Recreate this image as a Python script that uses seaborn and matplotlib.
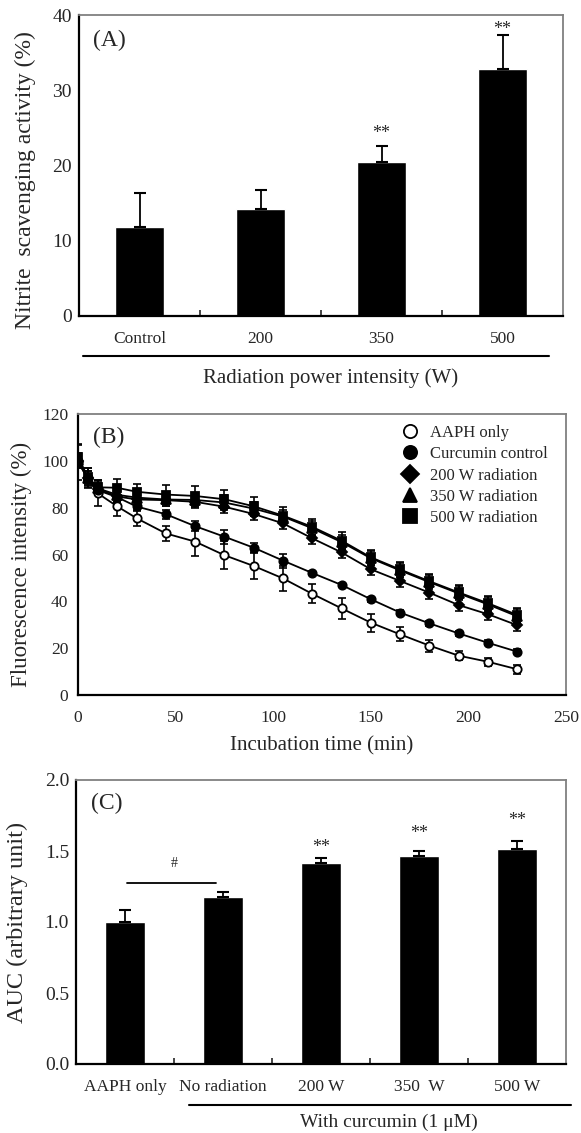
import matplotlib
matplotlib.use("Agg")
import matplotlib.pyplot as plt
from matplotlib.lines import Line2D
import seaborn as sns
import pandas as pd

# DATA

# (A) nitrite scavenging
A_CATS = ["Control", "200", "350", "500"]
A_VALS = [11.8, 14.2, 20.4, 32.8]
A_ERR = [4.5, 2.5, 2.2, 4.6]
A_STARS = ["", "", "**", "**"]

# (B) fluorescence decay
B_TIME = [0, 5, 10, 20, 30, 45, 60, 75, 90, 105, 120, 135, 150, 165, 180, 195, 210, 225]
B_AAPH = [99.5, 92.5, 86.2, 80.6, 75.5, 69.0, 65.5, 59.7, 55.1, 49.8, 43.2, 37.0, 30.9, 25.9, 21.1, 16.8, 14.2, 11.0]
B_AAPH_ERR = [7.5, 4.3, 5.7, 4.0, 3.5, 3.2, 6.0, 6.0, 5.7, 5.5, 4.0, 4.5, 3.8, 3.0, 2.6, 1.8, 1.7, 1.9]
B_CURC = [100.0, 92.5, 87.5, 84.5, 80.5, 77.2, 72.1, 67.6, 62.9, 57.4, 52.1, 47.0, 40.9, 35.2, 30.6, 26.3, 22.3, 18.5]
B_CURC_ERR = [2.0, 2.0, 2.0, 2.0, 2.0, 2.0, 2.0, 3.0, 2.0, 3.0, 1.0, 1.0, 1.0, 1.0, 1.0, 1.0, 1.0, 1.0]
B_200 = [100.0, 92.5, 88.0, 84.8, 83.5, 83.2, 82.5, 80.4, 77.3, 73.3, 66.9, 60.9, 53.7, 48.7, 43.7, 38.4, 34.5, 29.8]
B_200_ERR = [3.0, 3.0, 2.5, 2.5, 2.5, 2.5, 2.5, 2.5, 2.5, 2.5, 2.5, 2.5, 2.5, 2.5, 2.5, 2.5, 2.5, 2.5]
B_350 = [100.5, 92.5, 88.3, 85.5, 84.3, 83.5, 83.3, 82.2, 79.6, 76.2, 71.2, 65.3, 58.4, 53.2, 48.2, 43.4, 38.7, 33.6]
B_350_ERR = [3.0, 3.0, 3.0, 3.0, 3.0, 3.0, 3.0, 3.0, 3.0, 3.0, 3.0, 3.0, 3.0, 3.0, 3.0, 3.0, 3.0, 3.0]
B_500 = [101.8, 93.0, 88.7, 88.5, 86.8, 85.6, 85.0, 83.6, 80.6, 76.6, 71.8, 65.9, 58.8, 53.6, 48.6, 43.8, 39.2, 34.2]
B_500_ERR = [5.0, 4.0, 3.0, 3.9, 3.5, 4.2, 4.3, 4.0, 4.0, 3.5, 3.5, 3.6, 3.3, 3.0, 3.0, 3.0, 3.0, 3.0]
B_LABELS = ["AAPH only", "Curcumin control", "200 W radiation", "350 W radiation", "500 W radiation"]

# (C) AUC
C_CATS = ["AAPH only", "No radiation", "200 W", "350  W", "500 W"]
C_VALS = [1.00, 1.176, 1.413, 1.465, 1.512]
C_ERR = [0.085, 0.033, 0.040, 0.033, 0.058]
C_STARS = ["", "", "**", "**", "**"]

# STYLE

sns.set_style("white")
plt.rcParams["font.family"] = ["Liberation Serif", "DejaVu Serif"]

FIG_W, FIG_H = 581, 1133


def frame(ax):
    for side in ["left", "bottom"]:
        ax.spines[side].set_color("black")
        ax.spines[side].set_linewidth(1.6)
    for side in ["top", "right"]:
        ax.spines[side].set_color("#808080")
        ax.spines[side].set_linewidth(1.3)


def box(left, top, right, bottom):
    return [left / FIG_W, 1 - bottom / FIG_H, (right - left) / FIG_W, (bottom - top) / FIG_H]


def bars_with_errors(ax, cats, vals, errs, width):
    df = pd.DataFrame({"cat": cats, "val": vals})
    sns.barplot(data=df, x="cat", y="val", color="black", width=width,
                saturation=1, errorbar=None, ax=ax)
    ax.errorbar(range(len(vals)), vals, yerr=[[0] * len(errs), errs],
                fmt="none", ecolor="black", elinewidth=1.3, capsize=4, capthick=1.5)


def stars(ax, vals, errs, marks, offsets):
    for i, s in enumerate(marks):
        if s:
            ax.annotate(s, xy=(i, vals[i] + errs[i]), xytext=(0, offsets[i]),
                        textcoords="offset pixels", ha="center", va="center", fontsize=13)


fig = plt.figure(figsize=(FIG_W / 100, FIG_H / 100), dpi=100)

# PANEL A

axA = fig.add_axes(box(79, 15, 563, 316))
bars_with_errors(axA, A_CATS, A_VALS, A_ERR, 0.405)
stars(axA, A_VALS, A_ERR, A_STARS, [0, 0, 12, 5])
axA.set_xlim(-0.5, len(A_CATS) - 0.5)
axA.set_ylim(0, 40)
axA.set_yticks([0, 10, 20, 30, 40])
axA.set_xticks([0.5, 1.5, 2.5], minor=True)
axA.tick_params(axis="x", which="major", length=0, labelsize=12.5, pad=11)
axA.tick_params(axis="x", which="minor", direction="in", length=4, width=1.2, bottom=True)
axA.tick_params(axis="y", direction="in", length=0, labelsize=14, pad=5)
axA.set_xlabel("")
axA.set_ylabel("Nitrite  scavenging activity (%)", fontsize=17)
axA.yaxis.set_label_coords(-0.088, 0.452)
axA.text(0.029, 0.914, "(A)", transform=axA.transAxes, fontsize=17, va="center", ha="left")
axA.plot([0.008, 0.971], [-0.133, -0.133], transform=axA.transAxes, color="black",
         lw=1.5, clip_on=False)
axA.text(0.52, -0.206, "Radiation power intensity (W)", transform=axA.transAxes,
         ha="center", va="center", fontsize=15)
frame(axA)

# PANEL B

axB = fig.add_axes(box(78, 414, 566, 695))
series = [
    (B_AAPH, B_AAPH_ERR, "o", "white"),
    (B_CURC, B_CURC_ERR, "o", "black"),
    (B_200, B_200_ERR, "D", "black"),
    (B_350, B_350_ERR, "^", "black"),
    (B_500, B_500_ERR, "s", "black"),
]
msizes = {"o": 6, "D": 5, "^": 6.5, "s": 6}
for vals, err, mk, fc in series:
    axB.errorbar(B_TIME, vals, yerr=err, fmt="none", ecolor="black",
                 elinewidth=1.2, capsize=3, capthick=1.2, zorder=2)
    sns.lineplot(x=B_TIME, y=vals, marker=mk, color="black", lw=1.3,
                 markersize=msizes[mk], markerfacecolor=fc,
                 markeredgecolor="black", markeredgewidth=1.3, ax=axB, zorder=3)
axB.set_xlim(0, 250)
axB.set_ylim(0, 120)
axB.set_xticks([0, 50, 100, 150, 200, 250])
axB.set_yticks([0, 20, 40, 60, 80, 100, 120])
axB.tick_params(direction="in", length=4, width=1.2, labelsize=12.5, pad=7)
axB.tick_params(axis="x", pad=11)
axB.set_xlabel("Incubation time (min)", fontsize=15, labelpad=7)
axB.set_ylabel("Fluorescence intensity (%)", fontsize=16.5)
axB.yaxis.set_label_coords(-0.094, 0.463)
axB.text(0.031, 0.918, "(B)", transform=axB.transAxes, fontsize=17, va="center", ha="left")
handles = [Line2D([], [], ls="none", marker=mk, markersize=9.5, markerfacecolor=fc,
                  markeredgecolor="black", markeredgewidth=1.3, color="black")
           for _, _, mk, fc in series]
axB.legend(handles, B_LABELS, loc="upper left", bbox_to_anchor=(0.663, 0.961),
           frameon=False, fontsize=12, handlelength=1.0, handletextpad=0.7,
           labelspacing=0.32, borderpad=0, borderaxespad=0)
frame(axB)

# PANEL C

axC = fig.add_axes(box(76, 780, 566, 1064))
bars_with_errors(axC, C_CATS, C_VALS, C_ERR, 0.4)
stars(axC, C_VALS, C_ERR, C_STARS, [0, 0, 10, 18, 21])
axC.plot([0.02, 0.93], [1.275, 1.275], color="black", lw=1.3)
axC.text(0.5, 1.415, "#", ha="center", va="center", fontsize=10)
axC.set_xlim(-0.5, len(C_CATS) - 0.5)
axC.set_ylim(0, 2.0)
axC.set_yticks([0.0, 0.5, 1.0, 1.5, 2.0])
axC.set_yticklabels(["0.0", "0.5", "1.0", "1.5", "2.0"])
axC.set_xticks([0.5, 1.5, 2.5, 3.5], minor=True)
axC.tick_params(axis="x", which="major", length=0, labelsize=12.5, pad=11)
axC.tick_params(axis="x", which="minor", direction="in", length=4, width=1.2, bottom=True)
axC.tick_params(axis="y", direction="in", length=0, labelsize=14, pad=5)
axC.set_xlabel("")
axC.set_ylabel("AUC (arbitrary unit)", fontsize=17.5)
axC.yaxis.set_label_coords(-0.098, 0.498)
axC.text(0.03, 0.919, "(C)", transform=axC.transAxes, fontsize=17, va="center", ha="left")
axC.plot([0.231, 1.01], [-0.144, -0.144], transform=axC.transAxes, color="black",
         lw=1.5, clip_on=False)
axC.text(0.639, -0.204, "With curcumin (1 μM)", transform=axC.transAxes,
         ha="center", va="center", fontsize=14)
frame(axC)

fig.savefig("out.png", dpi=100)
